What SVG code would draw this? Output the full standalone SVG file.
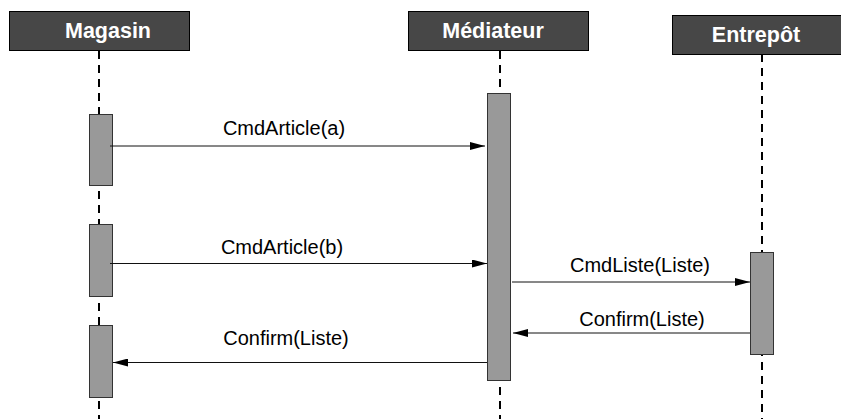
<svg xmlns="http://www.w3.org/2000/svg" width="841" height="419" viewBox="0 0 841 419">
<style>
.head{fill:#474747;stroke:#000;stroke-width:1}
.htxt{font-family:"Liberation Sans",Arial,sans-serif;font-weight:bold;font-size:21.5px;fill:#fff;text-anchor:middle}
.life{stroke:#000;stroke-width:2;stroke-dasharray:8 6;fill:none}
.act{fill:#999;stroke:#333;stroke-width:1}
.msg{stroke:#111;stroke-width:1;fill:none}
.lbl{font-family:"Liberation Sans",Arial,sans-serif;font-size:20px;fill:#000;text-anchor:middle}
</style>
<defs>
<marker id="ah" viewBox="0 0 15 8" refX="15" refY="4" markerWidth="15" markerHeight="8" markerUnits="userSpaceOnUse" orient="auto">
<path d="M0,0 L15,4 L0,8 Z" fill="#000"/>
</marker>
</defs>
<rect width="841" height="419" fill="#fff"/>
<g id="magasin">
<line class="life" x1="99" y1="51" x2="99" y2="419"/>
<rect class="head" x="9.5" y="11.5" width="180" height="39"/>
<text class="htxt" x="108" y="38">Magasin</text>
<rect class="act" x="89.5" y="114.5" width="23" height="71"/>
<rect class="act" x="89.5" y="224.5" width="23" height="72"/>
<rect class="act" x="89.5" y="325.5" width="23" height="72"/>
</g>
<g id="mediateur">
<line class="life" x1="500" y1="51" x2="500" y2="419"/>
<rect class="head" x="408.5" y="11.5" width="180" height="39"/>
<text class="htxt" x="493" y="38">Médiateur</text>
<rect class="act" x="487.5" y="93.5" width="23" height="287"/>
</g>
<g id="entrepot">
<line class="life" x1="762" y1="54" x2="762" y2="419"/>
<rect class="head" x="672.5" y="15.5" width="170" height="39"/>
<text class="htxt" x="756" y="42">Entrepôt</text>
<rect class="act" x="750.5" y="252.5" width="23" height="102"/>
</g>
<g id="connectors">
<line class="msg" x1="110" y1="146" x2="485" y2="146" marker-end="url(#ah)"/>
<text class="lbl" x="284" y="135">CmdArticle(a)</text>
<line class="msg" x1="110" y1="263.5" x2="487" y2="263.5" marker-end="url(#ah)"/>
<text class="lbl" x="282" y="254">CmdArticle(b)</text>
<line class="msg" x1="512" y1="282" x2="750" y2="282" marker-end="url(#ah)"/>
<text class="lbl" x="640" y="272">CmdListe(Liste)</text>
<line class="msg" x1="750" y1="333" x2="513" y2="333" marker-end="url(#ah)"/>
<text class="lbl" x="642" y="326">Confirm(Liste)</text>
<line class="msg" x1="487" y1="362.5" x2="113" y2="362.5" marker-end="url(#ah)"/>
<text class="lbl" x="286" y="345">Confirm(Liste)</text>
</g>
</svg>
